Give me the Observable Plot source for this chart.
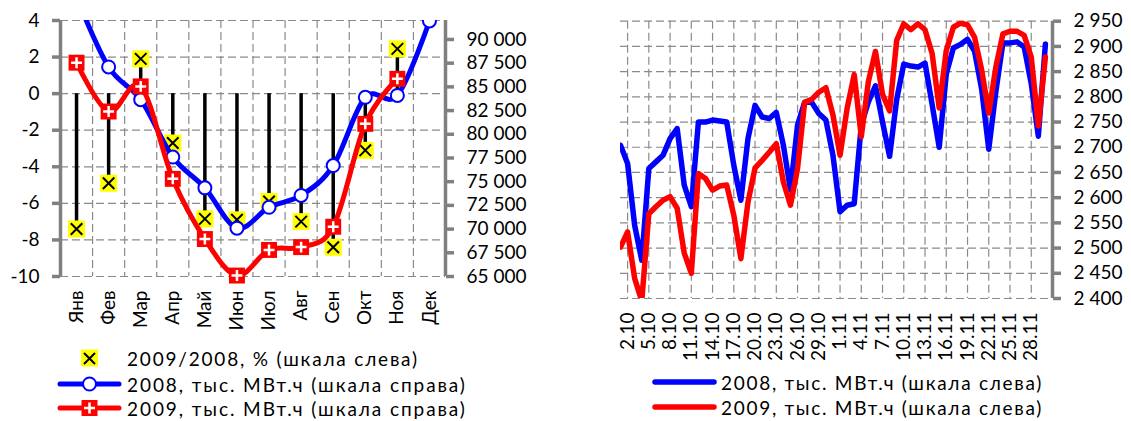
<!DOCTYPE html>
<html><head><meta charset="utf-8">
<script src="https://cdn.jsdelivr.net/npm/d3@7"></script>
<script src="https://cdn.jsdelivr.net/npm/@observablehq/plot@0.6"></script>
<style>
body{margin:0;background:#fff;font-family:Lato,"Open Sans",sans-serif;}
#wrap{position:relative;width:1131px;height:421px;overflow:hidden;background:#fff;}
.panel{position:absolute;top:0;}
.leg{position:absolute;font-size:19px;white-space:nowrap;color:#000;line-height:1;display:flex;align-items:center;}
.leg svg{overflow:visible;}
</style></head><body><div id="wrap"></div>
<script>
// ---- Left panel data (monthly) ----
const months = ["Янв","Фев","Мар","Апр","Май","Июн","Июл","Авг","Сен","Окт","Ноя","Дек"];
const pct2009vs2008 = [-7.4, -4.9, 1.9, -2.7, -6.85, -6.9, -5.9, -7.0, -8.4, -3.1, 2.45, null];
const cons2008 = [94500, 87100, 83650, 77600, 74350, 70100, 72300, 73550, 76700, 83900, 84100, 91950];
const cons2009 = [87550, 82400, 85050, 75300, 68950, 65100, 67800, 68100, 70250, 81100, 85850, null];
const leftTicks = [-10, -8, -6, -4, -2, 0, 2, 4];
const rightTicks = [65000, 67500, 70000, 72500, 75000, 77500, 80000, 82500, 85000, 87500, 90000];
const rightDomain = [65000, 92000];

// ---- Right panel data (daily, 1.10 - 30.11) ----
const days = [...d3.range(1, 32).map(d => d + ".10"), ...d3.range(1, 31).map(d => d + ".11")];
const daily2008 = [2704,2668,2545,2476,2658,2671,2684,2717,2737,2625,2582,2750,2750,2754,2752,2750,2664,2595,2717,2783,
  2760,2757,2769,2704,2615,2744,2789,2789,2767,2754,2684,2572,2585,2588,2744,2790,2822,2750,2682,2795,
  2865,2861,2859,2867,2785,2700,2845,2897,2904,2914,2890,2815,2696,2810,2907,2907,2909,2899,2826,2722,2905];
const daily2009 = [2502,2532,2440,2395,2568,2582,2595,2602,2579,2490,2450,2648,2638,2615,2623,2625,2565,2479,2591,2659,
  2674,2690,2707,2631,2585,2658,2789,2795,2809,2818,2764,2684,2777,2844,2721,2830,2890,2805,2772,2912,
  2945,2933,2945,2933,2886,2778,2892,2938,2946,2943,2918,2853,2768,2859,2925,2930,2930,2922,2879,2742,2879];
const dailyTicks = [2400,2450,2500,2550,2600,2650,2700,2750,2800,2850,2900,2950];

const fmt = v => d3.format(",")(Math.round(v)).replace(/,/g, "\u00a0");
const GRID = {stroke: "#8a8a8a", strokeWidth: 1.2, strokeDasharray: "8,4"};
const AX = "#808080";
const wrap = document.getElementById("wrap");

// ---------- LEFT PANEL ----------
const [lo, hi] = [leftTicks[0], leftTicks[leftTicks.length - 1]];
const toLeft = v => lo + (v - rightDomain[0]) * (hi - lo) / (rightDomain[1] - rightDomain[0]);
const fromLeft = y => rightDomain[0] + (y - lo) * (rightDomain[1] - rightDomain[0]) / (hi - lo);
const rows = months.map((m, i) => ({i, m, p: pct2009vs2008[i], a: cons2008[i], b: cons2009[i]}));
const rowsP = rows.filter(d => d.p != null);
const rowsB = rows.filter(d => d.b != null);
const xl = [-0.5, months.length - 0.5];

const left = Plot.plot({
  width: 560, height: 345,
  marginLeft: 60, marginRight: 115, marginTop: 20, marginBottom: 69,
  style: {fontFamily: "Lato, 'Open Sans', sans-serif", fontSize: "19px", background: "transparent", overflow: "visible"},
  x: {type: "linear", domain: xl, axis: null},
  y: {type: "linear", domain: [lo, hi], axis: null},
  marks: [
    Plot.ruleY(leftTicks, GRID),
    Plot.ruleX(d3.range(1, months.length).map(k => k - 0.5), GRID),
    Plot.ruleX(rowsP, {x: "i", y1: 0, y2: "p", stroke: "black", strokeWidth: 3.5}),
    Plot.dot(rowsP, {x: "i", y: "p", symbol: "square", r: 9.6, fill: "#ffff00"}),
    Plot.dot(rowsP, {x: "i", y: "p", symbol: "times", r: 5.3, stroke: "black", strokeWidth: 2}),
    Plot.line(rows, {x: "i", y: d => toLeft(d.a), stroke: "#0000ff", strokeWidth: 5, curve: "cardinal", clip: true}),
    Plot.dot(rows, {x: "i", y: d => toLeft(d.a), r: 6.5, fill: "white", stroke: "#0000ff", strokeWidth: 2, clip: true}),
    Plot.line(rowsB, {x: "i", y: d => toLeft(d.b), stroke: "#ff0000", strokeWidth: 5, curve: "cardinal", clip: true}),
    Plot.dot(rowsB, {x: "i", y: d => toLeft(d.b), symbol: "square", r: 9, fill: "#ff0000"}),
    Plot.dot(rowsB, {x: "i", y: d => toLeft(d.b), symbol: "plus", r: 3.6, stroke: "white", strokeWidth: 2.5}),
    Plot.ruleX(xl, {stroke: AX, strokeWidth: 3.5}),
    Plot.axisY({anchor: "left", label: null, ticks: leftTicks, tickFormat: d => String(d), tickSize: 8, tickPadding: 13, stroke: AX, strokeWidth: 3.5, fill: "black", fontSize: 19}),
    Plot.axisY({anchor: "right", label: null, ticks: rightTicks.map(toLeft), tickFormat: y => fmt(fromLeft(y)), tickSize: 8, tickPadding: 13, stroke: AX, strokeWidth: 3.5, fill: "black", fontSize: 19}),
    Plot.axisX({label: null, ticks: months.map((m, i) => i), tickFormat: i => months[i], tickRotate: -90, tickSize: 0, tickPadding: 14, fill: "black", fontSize: 19})
  ]
});
left.classList.add("panel");
left.style.left = "0px";
wrap.appendChild(left);

// ---------- RIGHT PANEL ----------
const drows = days.map((d, i) => ({i, d, a: daily2008[i], b: daily2009[i]}));
const dayTickIdx = d3.range(1, days.length, 3);
const xr = [0, days.length];
const right = Plot.plot({
  width: 561, height: 380,
  marginLeft: 50, marginRight: 79, marginTop: 20.7, marginBottom: 82,
  style: {fontFamily: "Lato, 'Open Sans', sans-serif", fontSize: "19px", background: "transparent", overflow: "visible"},
  x: {type: "linear", domain: xr, axis: null},
  y: {type: "linear", domain: [dailyTicks[0], dailyTicks[dailyTicks.length - 1]], axis: null},
  marks: [
    Plot.ruleY(dailyTicks, GRID),
    Plot.ruleX(dayTickIdx, GRID),
    Plot.line(drows, {x: "i", y: "a", stroke: "#0000ff", strokeWidth: 5.5, strokeLinejoin: "round", clip: true}),
    Plot.line(drows, {x: "i", y: "b", stroke: "#ff0000", strokeWidth: 5.5, strokeLinejoin: "round", clip: true}),
    Plot.ruleX([xr[1]], {stroke: AX, strokeWidth: 3.5}),
    Plot.axisY({anchor: "right", label: null, ticks: dailyTicks, tickFormat: fmt, tickSize: 8, tickPadding: 13, stroke: AX, strokeWidth: 3.5, fill: "black", fontSize: 19}),
    Plot.axisX({label: null, ticks: dayTickIdx, tickFormat: i => days[i], tickRotate: -90, tickSize: 0, tickPadding: 14, fill: "black", fontSize: 19})
  ]
});
right.classList.add("panel");
right.style.left = "570px";
wrap.appendChild(right);

// ---------- LEGENDS ----------
function legendItem(x, y, iconSvg, label, targetWidth) {
  const div = document.createElement("div");
  div.className = "leg";
  div.style.left = x + "px";
  div.style.top = (y - 11) + "px";
  div.style.height = "22px";
  div.innerHTML = `<svg width="66" height="22" style="margin-right:3px">${iconSvg}</svg><span>${label}</span>`;
  wrap.appendChild(div);
  const span = div.querySelector("span");
  const w = span.getBoundingClientRect().width;
  const n = label.length;
  if (n > 1) span.style.letterSpacing = ((targetWidth - w) / n).toFixed(2) + "px";
}
const yellowIcon = `<rect x="23" y="2.5" width="17" height="17" fill="#ffff00"/><path d="M26,6 L37,17 M37,6 L26,17" stroke="black" stroke-width="2"/>`;
const blueIcon = `<line x1="2" y1="11" x2="61" y2="11" stroke="#0000ff" stroke-width="5" stroke-linecap="round"/><circle cx="31.5" cy="11" r="6.5" fill="white" stroke="#0000ff" stroke-width="2"/>`;
const redIcon = `<line x1="2" y1="11" x2="61" y2="11" stroke="#ff0000" stroke-width="5" stroke-linecap="round"/><rect x="23.5" y="3" width="16" height="16" fill="#ff0000"/><path d="M31.5,5.5 V16.5 M26,11 H37" stroke="white" stroke-width="2.5"/>`;
const blueLine = `<line x1="3" y1="11" x2="62" y2="11" stroke="#0000ff" stroke-width="5.5" stroke-linecap="round"/>`;
const redLine = `<line x1="3" y1="11" x2="62" y2="11" stroke="#ff0000" stroke-width="5.5" stroke-linecap="round"/>`;
legendItem(58, 358, yellowIcon, "2009/2008, % (шкала слева)", 292);
legendItem(58, 384, blueIcon, "2008, тыс. МВт.ч (шкала справа)", 340);
legendItem(58, 408, redIcon, "2009, тыс. МВт.ч (шкала справа)", 340);
legendItem(652, 382, blueLine, "2008, тыс. МВт.ч (шкала слева)", 322);
legendItem(652, 407, redLine, "2009, тыс. МВт.ч (шкала слева)", 322);
</script></body></html>
